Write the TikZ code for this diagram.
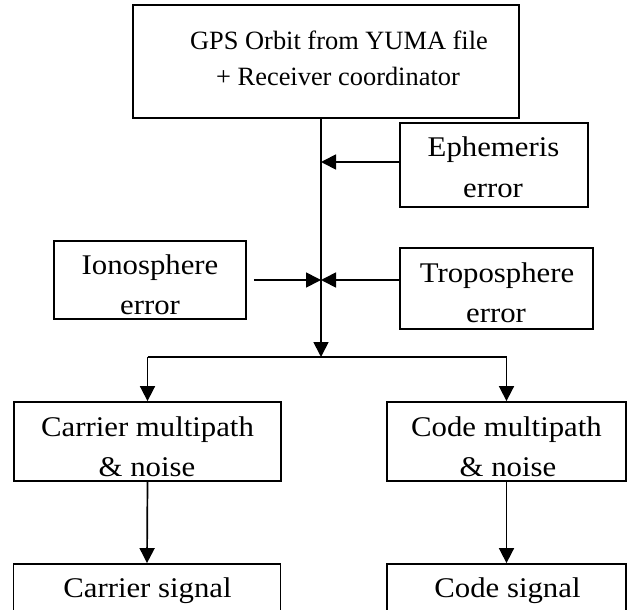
\documentclass[tikz,border=0pt]{standalone}
\usepackage{fontspec}
\setmainfont{Liberation Serif}
\newfontfamily\wfont{Liberation Serif}[FakeStretch=1.08]
\usetikzlibrary{arrows.meta}
\begin{document}
\begin{tikzpicture}[x=1bp,y=-1bp,
  box/.style={draw,line width=1.8bp,rectangle,inner sep=0pt,minimum width=#1},
  lbl/.style={anchor=base,inner sep=0pt,font=\wfont\fontsize{28.5bp}{32bp}\selectfont},
  tlbl/.style={anchor=base,inner sep=0pt,font=\fontsize{26.4bp}{32bp}\selectfont},
  conn/.style={line width=1.7bp},
  arr/.style={conn,-{Triangle[length=15bp,width=15bp]}}]
\useasboundingbox (0,0) rectangle (627,610);
\clip (0,0) rectangle (627,610);
% boxes
\node[box=386bp,minimum height=113bp] (top) at (326,61.5) {};
\node[box=188bp,minimum height=84bp] (eph) at (494,165) {};
\node[box=192bp,minimum height=78bp] (ion) at (150,280) {};
\node[box=193bp,minimum height=81bp] (trop) at (496.5,288.5) {};
\node[box=267bp,minimum height=79bp] (cm) at (147.5,441.5) {};
\node[box=239bp,minimum height=79bp] (cd) at (506.5,441.5) {};
\node[box=267bp,minimum height=70bp] (cs) at (147,599) {};
\node[box=239bp,minimum height=70bp] (cds) at (506.5,599) {};
% texts
\node[tlbl] (t1) at (339,50) {GPS Orbit from YUMA file};
\node[tlbl] (t2) at (338,86) {+ Receiver coordinator};
\node[lbl] (e1) at (493.5,157) {Ephemeris};
\node[lbl] (e2) at (493,197) {error};
\node[lbl] (i1) at (150,274) {Ionosphere};
\node[lbl] (i2) at (150,314) {error};
\node[lbl] (p1) at (497,282) {Troposphere};
\node[lbl] (p2) at (496,322) {error};
\node[lbl] (c1) at (147.5,436) {Carrier multipath};
\node[lbl] (c2) at (147,476) {\&\ noise};
\node[lbl] (d1) at (506.5,436) {Code multipath};
\node[lbl] (d2) at (508,476) {\&\ noise};
\node[lbl] (s1) at (147.5,597) {Carrier signal};
\node[lbl] (s2) at (507.5,597) {Code signal};
% junctions
\coordinate (j1) at (321,162);
\coordinate (j2) at (321,280);
\coordinate (j3) at (321,357);
% connectors
\draw[arr] (j3 |- top.south) -- (j3);
\draw[arr] (eph.west |- j1) -- (j1);
\draw[arr] ([xshift=7bp]ion.east |- j2) -- (j2);
\draw[arr] (trop.west |- j2) -- (j2);
\draw[conn] (cm.north |- j3) -- (cd.north |- j3);
\draw[arr] (cm.north |- j3) -- (cm.north);
\draw[arr] (cd.north |- j3) -- (cd.north);
\draw[arr] (cm.south) -- (cs.north);
\draw[arr] (cd.south) -- (cds.north);
\end{tikzpicture}
\end{document}
